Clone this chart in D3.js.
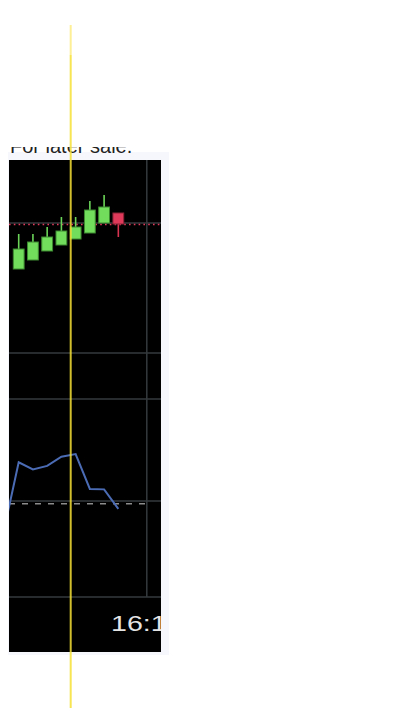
<!DOCTYPE html>
<meta charset="utf-8">
<style>
body { margin: 0; background: #fff; }
svg { display: block; font-family: "Liberation Sans", Arial, sans-serif; }
</style>
<svg class="chart" width="411" height="708"></svg>
<script src="https://d3js.org/d3.v7.min.js"></script>
<script>

// candle times (15 min bars) and OHLC values
var times = ["14:00", "14:15", "14:30", "14:45", "15:00", "15:15", "15:30", "15:45", "16:00", "16:15"];
var open  = [1.0844, 1.0853, 1.0862, 1.0868, 1.0874, 1.0880, 1.0890, 1.0900];
var high  = [1.0879, 1.0879, 1.0886, 1.0896, 1.0896, 1.0912, 1.0918, 1.0900];
var low   = [1.0844, 1.0853, 1.0862, 1.0868, 1.0874, 1.0880, 1.0890, 1.0876];
var close = [1.0864, 1.0871, 1.0876, 1.0882, 1.0886, 1.0903, 1.0906, 1.0889];
var lastPrice = 1.0889;
var priceGrid = [1.0890];

// indicator line, starting one bar before the first candle
var indIndex = [-1, 0, 1, 2, 3, 4, 5, 6, 7];
var indValue = [-13.2, 19.0, 15.5, 17.2, 21.7, 23.0, 5.9, 5.7, -3.9];
var indGrid = [50, 0];
var indSignal = -1.3;

var timeTicks = ["16:15"];

var svg = d3.select(".chart");
var pLeft = 9, pRight = 161, pTop = 160, pBottom = 652;

var x = d3.scaleLinear().domain([0, 9]).range([18.7, 146.8]);
var y = d3.scaleLinear().domain([1.08, 1.09]).range([313, 213]);
var yi = d3.scaleLinear().domain([0, 50]).range([501, 399]);

var defs = svg.append("defs");
defs.append("clipPath").attr("id", "titleclip")
  .append("rect").attr("x", 0).attr("y", 147).attr("width", 170).attr("height", 13);
defs.append("clipPath").attr("id", "plot")
  .append("rect").attr("x", pLeft).attr("y", pTop).attr("width", pRight - pLeft).attr("height", pBottom - pTop);

// page panel and clipped title
svg.append("rect").attr("x", 8).attr("y", 152).attr("width", 161).attr("height", 503).attr("fill", "#f6f7fd");
svg.append("g").attr("clip-path", "url(#titleclip)")
  .append("text")
    .attr("x", 10).attr("y", 153)
    .attr("font-size", 20)
    .attr("fill", "#222")
    .text("For later sale.");

svg.append("rect").attr("x", pLeft).attr("y", pTop).attr("width", pRight - pLeft).attr("height", pBottom - pTop).attr("fill", "#000");

var g = svg.append("g").attr("clip-path", "url(#plot)");
var gridColor = "#353a3d";

// grid
var timeIdx = timeTicks.map(function(t) { return times.indexOf(t); });
g.selectAll(".vgrid").data(timeIdx).enter().append("line")
    .attr("x1", function(d) { return x(d); }).attr("x2", function(d) { return x(d); })
    .attr("y1", pTop).attr("y2", 597)
    .attr("stroke", gridColor).attr("stroke-width", 1.5);

g.selectAll(".pgrid").data(priceGrid).enter().append("line")
    .attr("x1", pLeft).attr("x2", pRight)
    .attr("y1", function(d) { return y(d); }).attr("y2", function(d) { return y(d); })
    .attr("stroke", gridColor).attr("stroke-width", 1.5);

g.selectAll(".igrid").data(indGrid).enter().append("line")
    .attr("x1", pLeft).attr("x2", pRight)
    .attr("y1", function(d) { return yi(d); }).attr("y2", function(d) { return yi(d); })
    .attr("stroke", gridColor).attr("stroke-width", 1.5);

// pane separator and time axis border
[353, 597].forEach(function(py) {
  g.append("line").attr("x1", pLeft).attr("x2", pRight).attr("y1", py).attr("y2", py)
      .attr("stroke", gridColor).attr("stroke-width", 1.5);
});

// last price line
g.append("line")
    .attr("x1", pLeft).attr("x2", pRight)
    .attr("y1", y(lastPrice) + 0.5).attr("y2", y(lastPrice) + 0.5)
    .attr("stroke", "#e23b5c").attr("stroke-width", 1.6)
    .attr("stroke-dasharray", "1.6,3.2");

// candles
var bw = 10.8;
var candles = g.selectAll(".candle").data(open).enter().append("g");
candles.append("line")
    .attr("x1", function(d, i) { return x(i); }).attr("x2", function(d, i) { return x(i); })
    .attr("y1", function(d, i) { return y(high[i]); })
    .attr("y2", function(d, i) { return y(low[i]); })
    .attr("stroke", function(d, i) { return close[i] >= open[i] ? "#6bd458" : "#d83452"; })
    .attr("stroke-width", 1.6);
candles.append("rect")
    .attr("x", function(d, i) { return x(i) - bw / 2; })
    .attr("y", function(d, i) { return y(Math.max(open[i], close[i])); })
    .attr("width", bw)
    .attr("height", function(d, i) { return Math.abs(y(open[i]) - y(close[i])); })
    .attr("fill", function(d, i) { return close[i] >= open[i] ? "#72dc5c" : "#e03a5b"; })
    .attr("stroke", function(d, i) { return close[i] >= open[i] ? "#3c8a30" : "#8a2236"; })
    .attr("stroke-width", 1);

// indicator
g.append("line")
    .attr("x1", pLeft).attr("x2", 152)
    .attr("y1", yi(indSignal)).attr("y2", yi(indSignal))
    .attr("stroke", "#8c8c8c").attr("stroke-width", 1.5)
    .attr("stroke-dasharray", "6,7");

var line = d3.line()
    .x(function(d, i) { return x(indIndex[i]); })
    .y(function(d) { return yi(d); });
g.append("path")
    .datum(indValue)
    .attr("d", line)
    .attr("fill", "none")
    .attr("stroke", "#4b6cb4")
    .attr("stroke-width", 2);

// time labels
g.selectAll(".tlabel").data(timeIdx).enter().append("text")
    .attr("transform", function(d) { return "translate(" + x(d) + ",631) scale(1.3,1)"; })
    .attr("text-anchor", "middle")
    .attr("font-size", 22)
    .attr("fill", "#e4e4e4")
    .text(function(d) { return times[d]; });

// yellow marker
svg.append("line").attr("x1", 70.7).attr("x2", 70.7).attr("y1", 25).attr("y2", 55)
    .attr("stroke", "#fbe54e").attr("stroke-opacity", 0.6).attr("stroke-width", 2);
svg.append("line").attr("x1", 70.7).attr("x2", 70.7).attr("y1", 55).attr("y2", 708)
    .attr("stroke", "#f7e035").attr("stroke-opacity", 0.85).attr("stroke-width", 2);

</script>
